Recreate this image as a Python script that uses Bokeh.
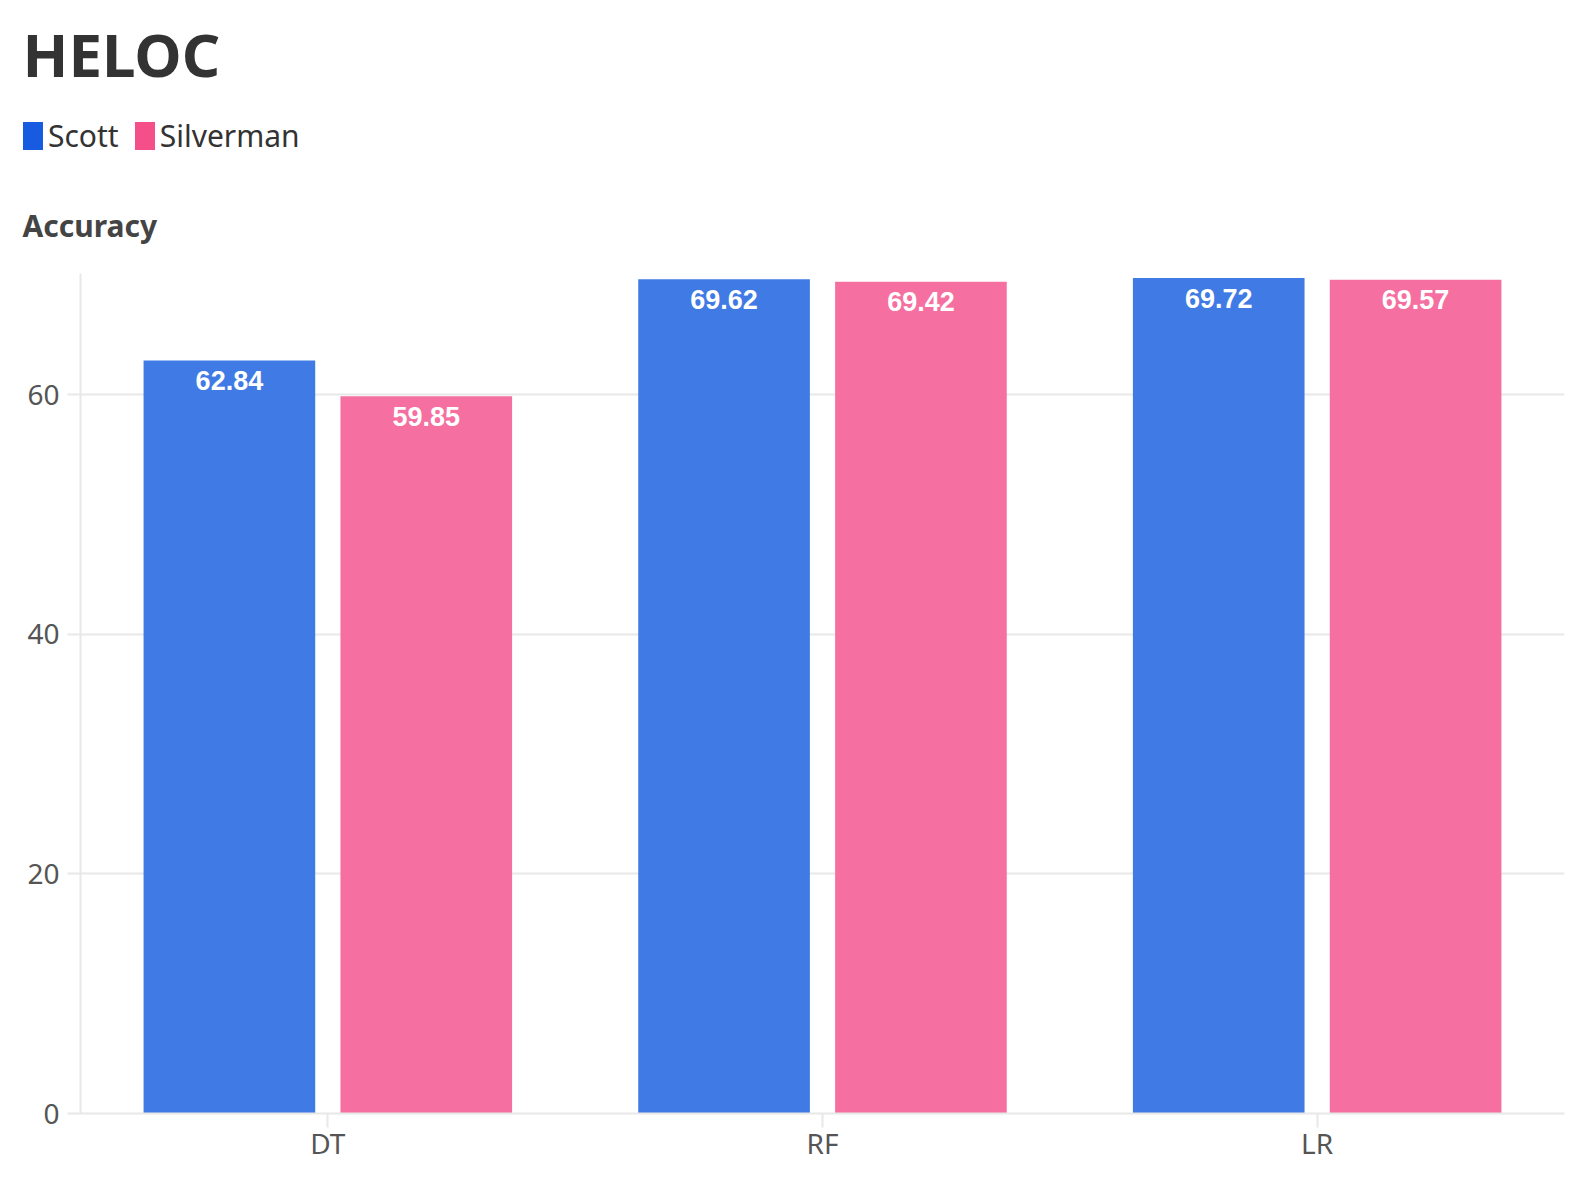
from bokeh.plotting import figure
from bokeh.layouts import column
from bokeh.models import ColumnDataSource, Range1d, FactorRange, Legend, LegendItem, FixedTicker
from bokeh.transform import dodge
from bokeh.core.properties import value
from bokeh.embed import file_html
from bokeh.resources import INLINE

categories = ["DT", "RF", "LR"]
scott = [62.84, 69.62, 69.72]
silverman = [59.85, 69.42, 69.57]
y_ticks = [0, 20, 40, 60]
series_names = ["Scott", "Silverman"]

FONT = "Noto Sans"
W = 1582
HEAD_H = 273

blue_bar = "#407ae4"
pink_bar = "#f570a0"
blue = "#175ce0"
pink = "#f54f8a"

src = ColumnDataSource(dict(
    cat=categories,
    scott=scott,
    silverman=silverman,
    scott_lbl=[f"{v:.2f}" for v in scott],
    silverman_lbl=[f"{v:.2f}" for v in silverman],
))

# ---------- header (title, legend, axis title) ----------
h = figure(width=W, height=HEAD_H, x_range=Range1d(0, W), y_range=Range1d(HEAD_H, 0),
           x_axis_type=None, y_axis_type=None,
           output_backend="svg", toolbar_location=None,
           min_border_left=0, min_border_right=0, min_border_top=0, min_border_bottom=0)
h.frame_align = False
h.grid.visible = False
h.outline_line_color = None
h.background_fill_color = "white"
h.border_fill_color = "white"

h.text(x=[22], y=[53], text=["HELOC"], text_baseline="alphabetic", text_align="left",
       text_font=value(FONT), text_font_style="bold", text_font_size="60px", text_color="#333333")
h.text(x=[22], y=[225], text=["Accuracy"], text_baseline="alphabetic", text_align="left",
       text_font=value(FONT), text_font_style="bold", text_font_size="30px", text_color="#444444")

# legend swatches take their colours from these (hidden) renderers
d1 = h.vbar(x="scott", top="scott", width=1, source=src, fill_color=blue, line_color=None, visible=False)
d2 = h.vbar(x="silverman", top="silverman", width=1, source=src, fill_color=pink, line_color=None, visible=False)
legend = Legend(items=[LegendItem(label=series_names[0], renderers=[d1]),
                       LegendItem(label=series_names[1], renderers=[d2])],
                orientation="horizontal", location=(20, HEAD_H - 156),
                glyph_width=25, glyph_height=35, label_standoff=3, spacing=13,
                padding=0, margin=0, border_line_color=None, background_fill_alpha=0,
                label_text_font=FONT, label_text_font_size="30px", label_text_color="#333333",
                label_height=28)
h.add_layout(legend, "center")

# ---------- main chart ----------
p = figure(x_range=FactorRange(*categories), y_range=Range1d(0, 70.1),
           width=W, height=907, output_backend="svg", toolbar_location=None,
           min_border_left=80, min_border_right=18, min_border_top=0, min_border_bottom=67)
p.frame_align = False
p.outline_line_color = None
p.background_fill_color = "white"
p.border_fill_color = "white"

p.vbar(x=dodge("cat", -0.199, range=p.x_range), top="scott", width=0.347, source=src,
       fill_color=blue_bar, line_color=None)
p.vbar(x=dodge("cat", 0.199, range=p.x_range), top="silverman", width=0.347, source=src,
       fill_color=pink_bar, line_color=None)

for off, col in ((-0.199, "scott"), (0.199, "silverman")):
    p.text(x=dodge("cat", off, range=p.x_range), y=col, text=col + "_lbl", source=src,
           text_align="center", text_baseline="middle", y_offset=20,
           text_font=value("Liberation Sans"), text_font_style="bold", text_font_size="27px",
           text_color="white")

p.xgrid.grid_line_color = None
p.ygrid.grid_line_color = "#e8e8e8"
p.ygrid.grid_line_width = 2
p.yaxis.ticker = FixedTicker(ticks=y_ticks)

for ax in (p.xaxis[0], p.yaxis[0]):
    ax.axis_line_color = "#e8e8e8"
    ax.axis_line_width = 2
    ax.major_tick_line_color = "#e8e8e8"
    ax.major_tick_line_width = 2
    ax.minor_tick_line_color = None
    ax.major_label_text_font = FONT
    ax.major_label_text_font_size = "28px"
    ax.major_label_text_color = "#555555"
p.yaxis.major_tick_out = 13
p.yaxis.major_tick_in = 0
p.yaxis.major_label_standoff = 8
p.xaxis.major_tick_out = 14
p.xaxis.major_tick_in = 0
p.xaxis.major_label_standoff = -4

layout = column(h, p, spacing=0)
open("out.html", "w").write(file_html(layout, INLINE))
